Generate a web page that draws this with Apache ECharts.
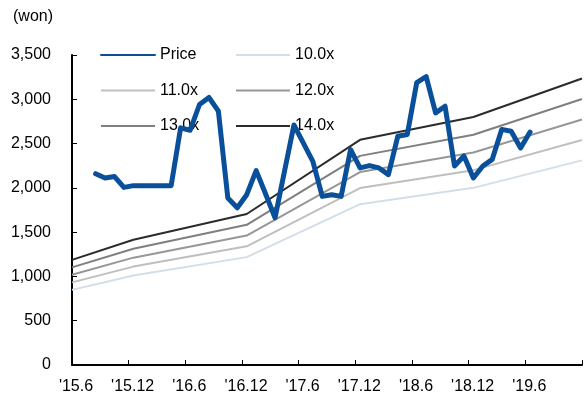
<!DOCTYPE html>
<html>
<head>
<meta charset="utf-8">
<script src="https://cdn.jsdelivr.net/npm/echarts@6/dist/echarts.min.js"></script>
<style>
html,body{margin:0;padding:0;background:#fff;}
#c{width:587px;height:401px;}
</style>
</head>
<body>
<div id="c"></div>
<script>
// x positions are months since Jun 2015
var xTickLabels = ["'15.6", "'15.12", "'16.6", "'16.12", "'17.6", "'17.12", "'18.6", "'18.12", "'19.6", ""];
var bandMonths = [0, 6.5, 18.5, 30.5, 42.5, 54];
var band10 = [848, 1010, 1218, 1816, 2000, 2310];
var band11 = [933, 1111, 1340, 1998, 2200, 2541];
var band12 = [1018, 1212, 1462, 2179, 2400, 2772];
var band13 = [1102, 1313, 1583, 2361, 2600, 3003];
var band14 = [1187, 1414, 1705, 2542, 2800, 3234];
// monthly price, first value = Aug 2015 (plotted mid-month)
var priceStartMonth = 2;
var priceValues = [2160, 2112, 2128, 2005, 2025, 2025, 2025, 2025, 2025, 2678, 2650, 2941, 3020, 2866,
  1886, 1775, 1923, 2195, 1930, 1662, 2187, 2710, 2505, 2300, 1904, 1923, 1904, 2432, 2225, 2251,
  2225, 2149, 2583, 2602, 3187, 3255, 2847, 2922, 2247, 2360, 2111, 2247, 2322, 2660, 2640, 2450, 2630];

function pairs(xs, ys) { return xs.map(function (x, i) { return [x, ys[i]]; }); }
var priceData = priceValues.map(function (v, k) { return [priceStartMonth + k + 0.5, v]; });

var font = 'Liberation Sans, Arial, sans-serif';
function band(name, data, color) {
  return {
    name: name, type: 'line', data: pairs(bandMonths, data), symbol: 'none',
    lineStyle: { color: color, width: 2 }, itemStyle: { color: color }, z: 2, silent: true
  };
}
function legendCol(left, names) {
  return {
    orient: 'vertical', left: left, top: 47, itemWidth: 54, itemHeight: 14, itemGap: 19.5,
    padding: 0,
    itemStyle: { opacity: 0 },
    textStyle: { fontSize: 16, fontFamily: font, color: '#000' },
    data: names
  };
}

var chart = echarts.init(document.getElementById('c'), null, { renderer: 'canvas' });
chart.setOption({
  animation: false,
  backgroundColor: '#fff',
  textStyle: { fontFamily: font },
  grid: { left: 72, right: 5, top: 55, bottom: 36, containLabel: false },
  graphic: [{
    type: 'text', left: 13, top: 9,
    style: { text: '(won)', fontSize: 16, fontFamily: font, fill: '#000' }
  }],
  legend: [legendCol(100, ['Price', '11.0x', '13.0x']), legendCol(235, ['10.0x', '12.0x', '14.0x'])],
  xAxis: {
    type: 'value', min: 0, max: 54, interval: 6,
    axisLine: { show: true, lineStyle: { color: '#000', width: 2 } },
    axisTick: { show: true, inside: true, length: 5, lineStyle: { color: '#000', width: 1 } },
    splitLine: { show: false },
    axisLabel: {
      margin: 14, fontSize: 16, fontFamily: font, color: '#000', padding: [0, 0, 0, 8],
      formatter: function (v) { return xTickLabels[Math.round(v / 6)]; }
    }
  },
  yAxis: {
    type: 'value', min: 0, max: 3500, interval: 500,
    axisLine: { show: true, lineStyle: { color: '#000', width: 2 } },
    axisTick: { show: true, inside: true, length: 5, lineStyle: { color: '#000', width: 1 } },
    splitLine: { show: false },
    axisLabel: {
      margin: 21, fontSize: 16, fontFamily: font, color: '#000',
      formatter: function (v) { return v.toLocaleString('en-US'); }
    }
  },
  series: [
    band('10.0x', band10, '#d3dee9'),
    band('11.0x', band11, '#bfbfbf'),
    band('12.0x', band12, '#979797'),
    band('13.0x', band13, '#7f7f7f'),
    band('14.0x', band14, '#2b2b2b'),
    {
      name: 'Price', type: 'line', data: priceData, symbol: 'none', z: 5,
      lineStyle: { color: '#0a4f99', width: 5, join: 'round', cap: 'round' },
      itemStyle: { color: '#0a4f99' }
    }
  ]
});
</script>
</body>
</html>
